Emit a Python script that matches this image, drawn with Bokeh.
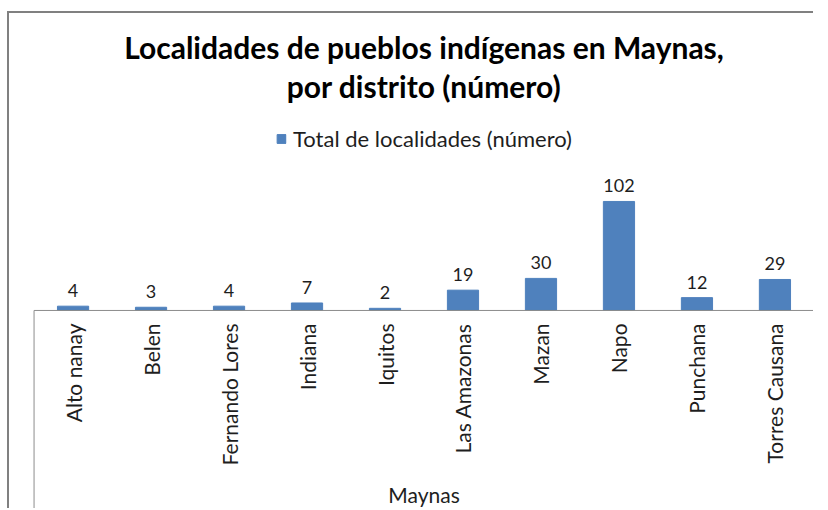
from math import pi
from bokeh.plotting import figure
from bokeh.models import ColumnDataSource, FactorRange, Range1d, Legend, Title
from bokeh.core.properties import value
from bokeh.embed import file_html
from bokeh.resources import INLINE

# ---- data ----
districts = ["Alto nanay", "Belen", "Fernando Lores", "Indiana", "Iquitos",
             "Las Amazonas", "Mazan", "Napo", "Punchana", "Torres Causana"]
counts = [4, 3, 4, 7, 2, 19, 30, 102, 12, 29]
group_name = "Maynas"
series_name = "Total de localidades (número)"
title_lines = ["Localidades de pueblos indígenas en Maynas,", "por distrito (número)"]

FONT = "Lato"
BAR = "#4F81BD"
TXT = "#1e1e1e"
LINE = "#8c8c8c"

src = ColumnDataSource(dict(district=districts, count=counts,
                            label=[str(c) for c in counts]))

n = len(districts)
x_range = FactorRange(factors=districts, range_padding=0.02,
                      range_padding_units="absolute")
y_range = Range1d(-187.2, 189.0)

p = figure(width=806, height=497, x_range=x_range, y_range=y_range,
           output_backend="svg", toolbar_location=None,
           x_axis_location=None, y_axis_location=None,
           min_border_left=23, min_border_right=0,
           min_border_top=95, min_border_bottom=0)
p.styles = {"border-top": "2px solid #808080", "border-left": "2px solid #808080",
            "margin-top": "11px", "margin-left": "7px", "margin-bottom": "-20px"}
p.xgrid.visible = False
p.ygrid.visible = False
p.outline_line_color = None

# title: second line added first (closest to the plot)
for i, line in enumerate(reversed(title_lines)):
    t = Title(text=line, align="center", text_font=FONT, text_font_size="30px",
              text_font_style="bold", text_color="#000000",
              standoff=10 if i == 0 else -8)
    p.add_layout(t, "above")

bars = p.vbar(x="district", top="count", width=0.4, source=src,
              fill_color=BAR, line_color=BAR)

# value labels
p.text(x="district", y="count", text="label", source=src,
       text_font=value(FONT), text_font_size="18px", text_color=TXT,
       text_align="center", text_baseline="bottom", y_offset=-9)

# category labels (rotated)
p.text(x="district", y=0, text="district", source=src, angle=pi / 2,
       text_font=value(FONT), text_font_size="21px", text_color=TXT,
       text_align="right", text_baseline="middle", y_offset=13)

# group label
p.text(x=[n / 2], y=[0], text=[group_name],
       text_font=value(FONT), text_font_size="21px", text_color=TXT,
       text_align="center", text_baseline="alphabetic", y_offset=184)

# category axis box
ybot = y_range.start - 10
p.multi_line(xs=[[0, 0, n, n]], ys=[[ybot, 0, 0, ybot]],
             line_color=LINE, line_width=1)

legend = Legend(items=[(series_name, [bars])], location="top_center",
                orientation="horizontal",
                label_text_font=FONT, label_text_font_size="22px",
                label_text_color=TXT, glyph_width=11, glyph_height=11,
                label_standoff=7, margin=17, padding=1,
                border_line_color=None, background_fill_alpha=0)
p.add_layout(legend)

open("out.html", "w").write(file_html(p, INLINE))
